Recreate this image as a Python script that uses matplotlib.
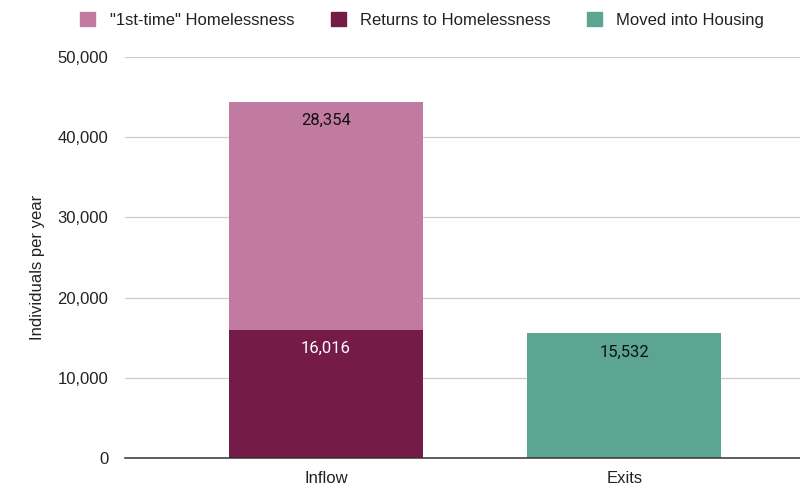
import matplotlib.pyplot as plt
from matplotlib.patches import Patch

plt.rcParams['font.family'] = ['Liberation Sans', 'DejaVu Sans']

categories = ['Inflow', 'Exits']
first_time = [28354, 0]
returns = [16016, 0]
moved = [0, 15532]

pink = '#c27ba0'
plum = '#741b47'
teal = '#5ba592'

fig = plt.figure(figsize=(8, 4.86), dpi=100)
ax = fig.add_axes([0.15625, 0.0576, 0.84375, 0.8251])

x = [0, 1]
w = 0.65
ax.bar(x[0], returns[0], width=w, color=plum, zorder=3)
ax.bar(x[0], first_time[0], bottom=returns[0], width=w, color=pink, zorder=3)
ax.bar(x[1], moved[1], width=w, color=teal, zorder=3)

# value labels just below each segment top
lab = dict(ha='center', va='center', fontsize=12, family=['Roboto', 'DejaVu Sans'], zorder=4)
ax.text(x[0], returns[0] + first_time[0] - 2250, f'{first_time[0]:,}', color='#111111', **lab)
ax.text(x[0], returns[0] - 2350, f'{returns[0]:,}', color='white', **lab)
ax.text(x[1], moved[1] - 2350, f'{moved[1]:,}', color='#111111', **lab)

ax.set_xlim(-0.673, 1.588)
ax.set_ylim(0, 50000)
ax.set_yticks(range(0, 50001, 10000))
ax.set_yticklabels([f'{v:,}' for v in range(0, 50001, 10000)], fontsize=12, color='#222222')
ax.set_xticks(x)
ax.set_xticklabels(categories, fontsize=12, color='#222222')
ax.tick_params(axis='y', length=0, pad=12)
ax.tick_params(axis='x', length=0, pad=9)
ax.grid(axis='y', color='#cccccc', linewidth=0.9, zorder=0)
for s in ['top', 'right', 'left']:
    ax.spines[s].set_visible(False)
ax.spines['bottom'].set_color('#333333')
ax.spines['bottom'].set_linewidth(1.1)
ax.spines['bottom'].set_zorder(5)
ax.set_ylabel('Individuals per year', fontsize=12, color='#222222')
ax.yaxis.set_label_coords(-0.118, 0.476)

handles = [Patch(color=pink, label='"1st-time" Homelessness'),
           Patch(color=plum, label='Returns to Homelessness'),
           Patch(color=teal, label='Moved into Housing')]
fig.legend(handles=handles, loc='center', bbox_to_anchor=(0.528, 0.959), ncol=3,
           frameon=False, fontsize=12, handlelength=0.9, handleheight=0.9,
           handletextpad=0.85, columnspacing=2.2, labelcolor='#222222')

fig.savefig('out.png', dpi=100)
